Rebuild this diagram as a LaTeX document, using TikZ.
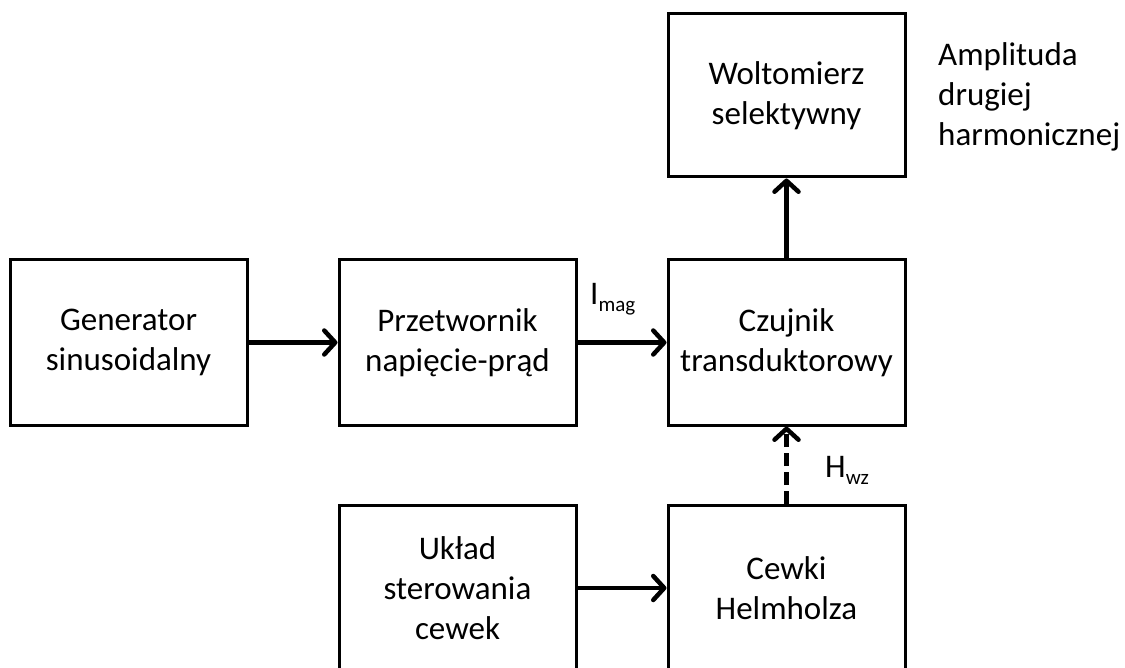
\documentclass[tikz,border=0pt]{standalone}
\usepackage{fontspec}
\setmainfont{Carlito}
\usetikzlibrary{arrows.meta}
\newcommand{\lowsub}[1]{\raisebox{-7pt}{\fontsize{21}{21}\selectfont #1}}
\begin{document}
\begin{tikzpicture}[x=1pt,y=-1pt,
  blockbox/.style={draw, line width=3pt, minimum width=237pt, minimum height=165pt, inner sep=0pt, align=center,
    font=\fontsize{33}{40}\selectfont},
  lbl/.style={inner sep=0pt, font=\fontsize{33}{40}\selectfont},
  conn/.style={line width=4.5pt, -{Straight Barb[length=11pt,width=24pt,line cap=round,line join=round]}},
]
\clip (0,0) rectangle (1125,668);
\fill[white] (0,0) rectangle (1125,668);
\node[blockbox, minimum height=163pt] (wolt) at (786.5,95.5) {Woltomierz\\selektywny};
\node[blockbox] (gen) at (128.5,342.5) {Generator\\sinusoidalny};
\node[blockbox] (prz) at (457.5,342.5) {Przetwornik\\napięcie-prąd};
\node[blockbox] (czu) at (786.5,342.5) {Czujnik\\transduktorowy};
\node[blockbox] (ukl) at (457.5,588) {Układ\\sterowania\\cewek};
\node[blockbox] (cew) at (786.5,588) {Cewki\\Helmholza};
\node[lbl, anchor=west, align=left] (amp) at (938,97) {Amplituda\\drugiej\\harmonicznej};
\node[lbl, anchor=base west] (imag) at (590,305) {I\lowsub{mag}};
\node[lbl, anchor=base west] (hwz) at (825,477) {H\lowsub{wz}};
\draw[conn] (gen.east) -- (prz.west);
\draw[conn] (prz.east) -- (czu.west);
\draw[conn] (czu.north) -- (wolt.south);
\draw[conn] (ukl.east) -- (cew.west);
\draw[conn, dash pattern=on 13pt off 6pt] (cew.north) -- (czu.south);
\end{tikzpicture}
\end{document}
